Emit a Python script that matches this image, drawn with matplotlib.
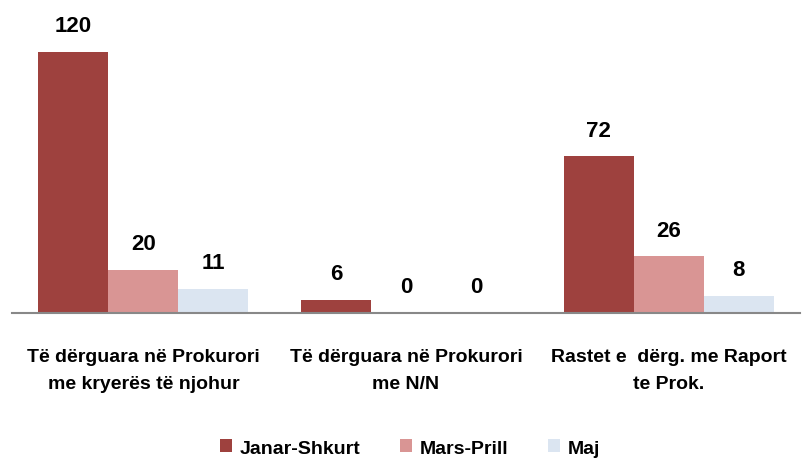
import matplotlib
matplotlib.use("Agg")
import matplotlib.pyplot as plt
import numpy as np

categories = ["Të dërguara në Prokurori\nme kryerës të njohur",
              "Të dërguara në Prokurori\nme N/N",
              "Rastet e  dërg. me Raport\nte Prok."]
series_names = ["Janar-Shkurt", "Mars-Prill", "Maj"]
janar_shkurt = [120, 6, 72]
mars_prill = [20, 0, 26]
maj = [11, 0, 8]
colors = ["#9E413E", "#D99594", "#DBE5F1"]

plt.rcParams['font.family'] = ['Liberation Sans', 'DejaVu Sans']
W, H = 806, 460
fig = plt.figure(figsize=(W/100, H/100), dpi=100)
ax = fig.add_axes([12/W, 1-314/H, 788/W, 304/H])

x = np.arange(len(categories))
bw = 0.8/3
data = [janar_shkurt, mars_prill, maj]
for i, (vals, name, c) in enumerate(zip(data, series_names, colors)):
    pos = x + (i-1)*bw
    ax.bar(pos, vals, width=bw, color=c, label=name, zorder=2)
    for p, v in zip(pos, vals):
        ax.annotate(str(v), (p, v), xytext=(0, 19), textcoords='offset points',
                    ha='center', va='center', fontsize=16, fontweight='bold', color='black')

ax.set_xlim(-0.5, 2.5)
ax.set_ylim(0, 139.8)
for s in ['top', 'right', 'left']:
    ax.spines[s].set_visible(False)
ax.spines['bottom'].set_color('#888888')
ax.spines['bottom'].set_linewidth(1.5)
ax.set_yticks([])
ax.set_xticks(x)
ax.set_xticklabels(categories, fontsize=14, fontweight='bold', linespacing=1.8)
ax.tick_params(axis='x', length=0, pad=25)

leg = fig.legend(loc='center', bbox_to_anchor=(410/W, 1-449/H), ncol=3, frameon=False,
                 prop={'weight': 'bold', 'size': 14},
                 handlelength=0.65, handleheight=0.65, handletextpad=0.4, columnspacing=2.0)
fig.savefig("out.png", dpi=100)
